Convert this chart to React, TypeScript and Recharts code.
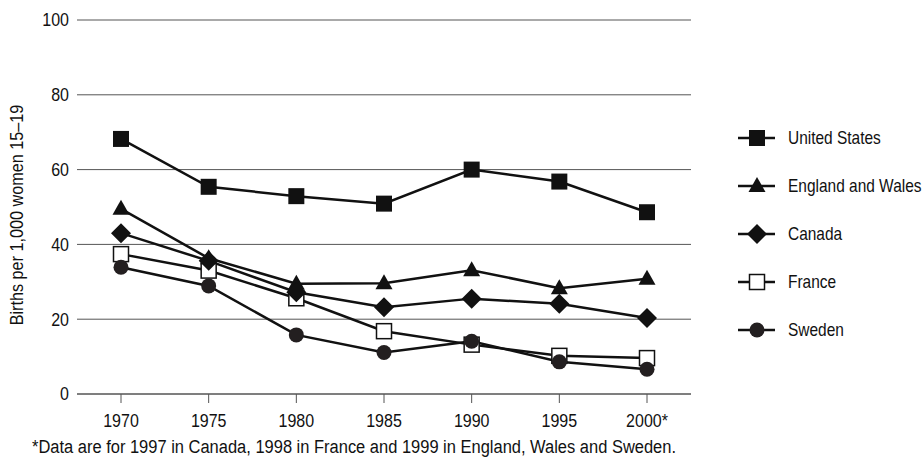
import { CartesianGrid, Line, LineChart, XAxis, YAxis } from "recharts";

const years = ["1970", "1975", "1980", "1985", "1990", "1995", "2000*"];
const unitedStates = [68.2, 55.4, 52.9, 50.9, 60.0, 56.8, 48.6];
const englandWales = [49.5, 36.3, 29.5, 29.6, 33.1, 28.3, 30.8];
const canada = [43.0, 35.6, 27.2, 23.2, 25.5, 24.1, 20.3];
const france = [37.4, 33.0, 25.6, 16.8, 13.2, 10.2, 9.6];
const sweden = [33.9, 28.9, 15.8, 11.1, 14.1, 8.6, 6.6];
const yTicks = [0, 20, 40, 60, 80, 100];

// no condensed font available, so regular Liberation Sans is squeezed horizontally
const FONT = '"Liberation Sans", Arial, sans-serif';
const INK = "#111";

type Shape = "square" | "triangle" | "diamond" | "openSquare" | "circle";

const series: { key: string; name: string; shape: Shape; values: number[] }[] = [
  { key: "us", name: "United States", shape: "square", values: unitedStates },
  { key: "ew", name: "England and Wales", shape: "triangle", values: englandWales },
  { key: "ca", name: "Canada", shape: "diamond", values: canada },
  { key: "fr", name: "France", shape: "openSquare", values: france },
  { key: "se", name: "Sweden", shape: "circle", values: sweden },
];

// drawing order so overlapping markers stack like the original
const drawOrder = ["fr", "se", "ew", "ca", "us"];

const data = years.map((year, i) => {
  const row: Record<string, string | number> = { year };
  series.forEach((s) => {
    row[s.key] = s.values[i];
  });
  return row;
});

function NarrowText({ x, y, anchor, squeeze, children }: any) {
  return (
    <text
      transform={`translate(${x},${y}) scale(${squeeze},1)`}
      textAnchor={anchor}
      dy="0.36em"
      fontFamily={FONT}
      fontSize={18}
      fill={INK}
    >
      {children}
    </text>
  );
}

function XTick(props: any) {
  return (
    <NarrowText x={props.x} y={props.y + 9} anchor="middle" squeeze={0.89}>
      {props.payload.value}
    </NarrowText>
  );
}

function YTick(props: any) {
  return (
    <NarrowText x={props.x + 1} y={props.y} anchor="end" squeeze={0.89}>
      {props.payload.value}
    </NarrowText>
  );
}

function Marker({ shape, cx, cy }: { shape: Shape; cx: number; cy: number }) {
  switch (shape) {
    case "square":
      return <rect x={cx - 8} y={cy - 8} width={16} height={16} fill={INK} />;
    case "openSquare":
      return <rect x={cx - 7.5} y={cy - 7.5} width={15} height={15} fill="#fff" stroke={INK} strokeWidth={1.5} />;
    case "triangle":
      return <polygon points={`${cx},${cy - 9} ${cx + 8.5},${cy + 6} ${cx - 8.5},${cy + 6}`} fill={INK} />;
    case "diamond":
      return <polygon points={`${cx},${cy - 10} ${cx + 10},${cy} ${cx},${cy + 10} ${cx - 10},${cy}`} fill={INK} />;
    case "circle":
      return <circle cx={cx} cy={cy} r={7.5} fill="#231f20" />;
  }
}

function makeDot(shape: Shape) {
  return (props: any) => (
    <g key={`${shape}-${props.index}`}>
      <Marker shape={shape} cx={props.cx} cy={props.cy} />
    </g>
  );
}

function ChartLegend() {
  return (
    <svg width={193} height={240} style={{ position: "absolute", left: 730, top: 114 }}>
      {series.map((s, i) => {
        const y = 24 + i * 48;
        return (
          <g key={s.key}>
            <line x1={8} x2={45} y1={y} y2={y} stroke={INK} strokeWidth={2.5} />
            <Marker shape={s.shape} cx={27} cy={y} />
            <NarrowText x={58} y={y} anchor="start" squeeze={0.86}>
              {s.name}
            </NarrowText>
          </g>
        );
      })}
    </svg>
  );
}

export default function App() {
  return (
    <div style={{ position: "absolute", left: 0, top: 0, width: 923, height: 466, background: "#fff", fontFamily: FONT }}>
      <LineChart width={923} height={466} data={data} margin={{ top: 20, right: 232, bottom: 22, left: 17 }}>
        <CartesianGrid horizontal vertical={false} stroke="#555" strokeWidth={1} />
        <XAxis
          dataKey="year"
          padding={{ left: 44, right: 44 }}
          axisLine={{ stroke: "#555" }}
          tickLine={{ stroke: "#555" }}
          tickSize={9}
          tickMargin={9}
          height={50}
          tick={<XTick />}
        />
        <YAxis
          domain={[0, 100]}
          ticks={yTicks}
          axisLine={false}
          tickLine={false}
          tickSize={0}
          tickMargin={9}
          width={60}
          tick={<YTick />}
        />
        {drawOrder.map((k) => {
          const s = series.find((x) => x.key === k)!;
          return (
            <Line
              key={s.key}
              dataKey={s.key}
              name={s.name}
              stroke={INK}
              strokeWidth={2.5}
              dot={makeDot(s.shape)}
              activeDot={false}
              isAnimationActive={false}
            />
          );
        })}
      </LineChart>
      <ChartLegend />
      <div
        style={{
          position: "absolute",
          left: 17,
          top: 215,
          transform: "translate(-50%, -50%) rotate(-90deg) scaleX(0.9)",
          whiteSpace: "nowrap",
          fontSize: 18,
          color: INK,
        }}
      >
        Births per 1,000 women 15–19
      </div>
      <div
        style={{
          position: "absolute",
          left: 32,
          top: 437,
          fontSize: 18,
          color: INK,
          whiteSpace: "nowrap",
          transform: "scaleX(0.915)",
          transformOrigin: "left center",
        }}
      >
        *Data are for 1997 in Canada, 1998 in France and 1999 in England, Wales and Sweden.
      </div>
    </div>
  );
}
